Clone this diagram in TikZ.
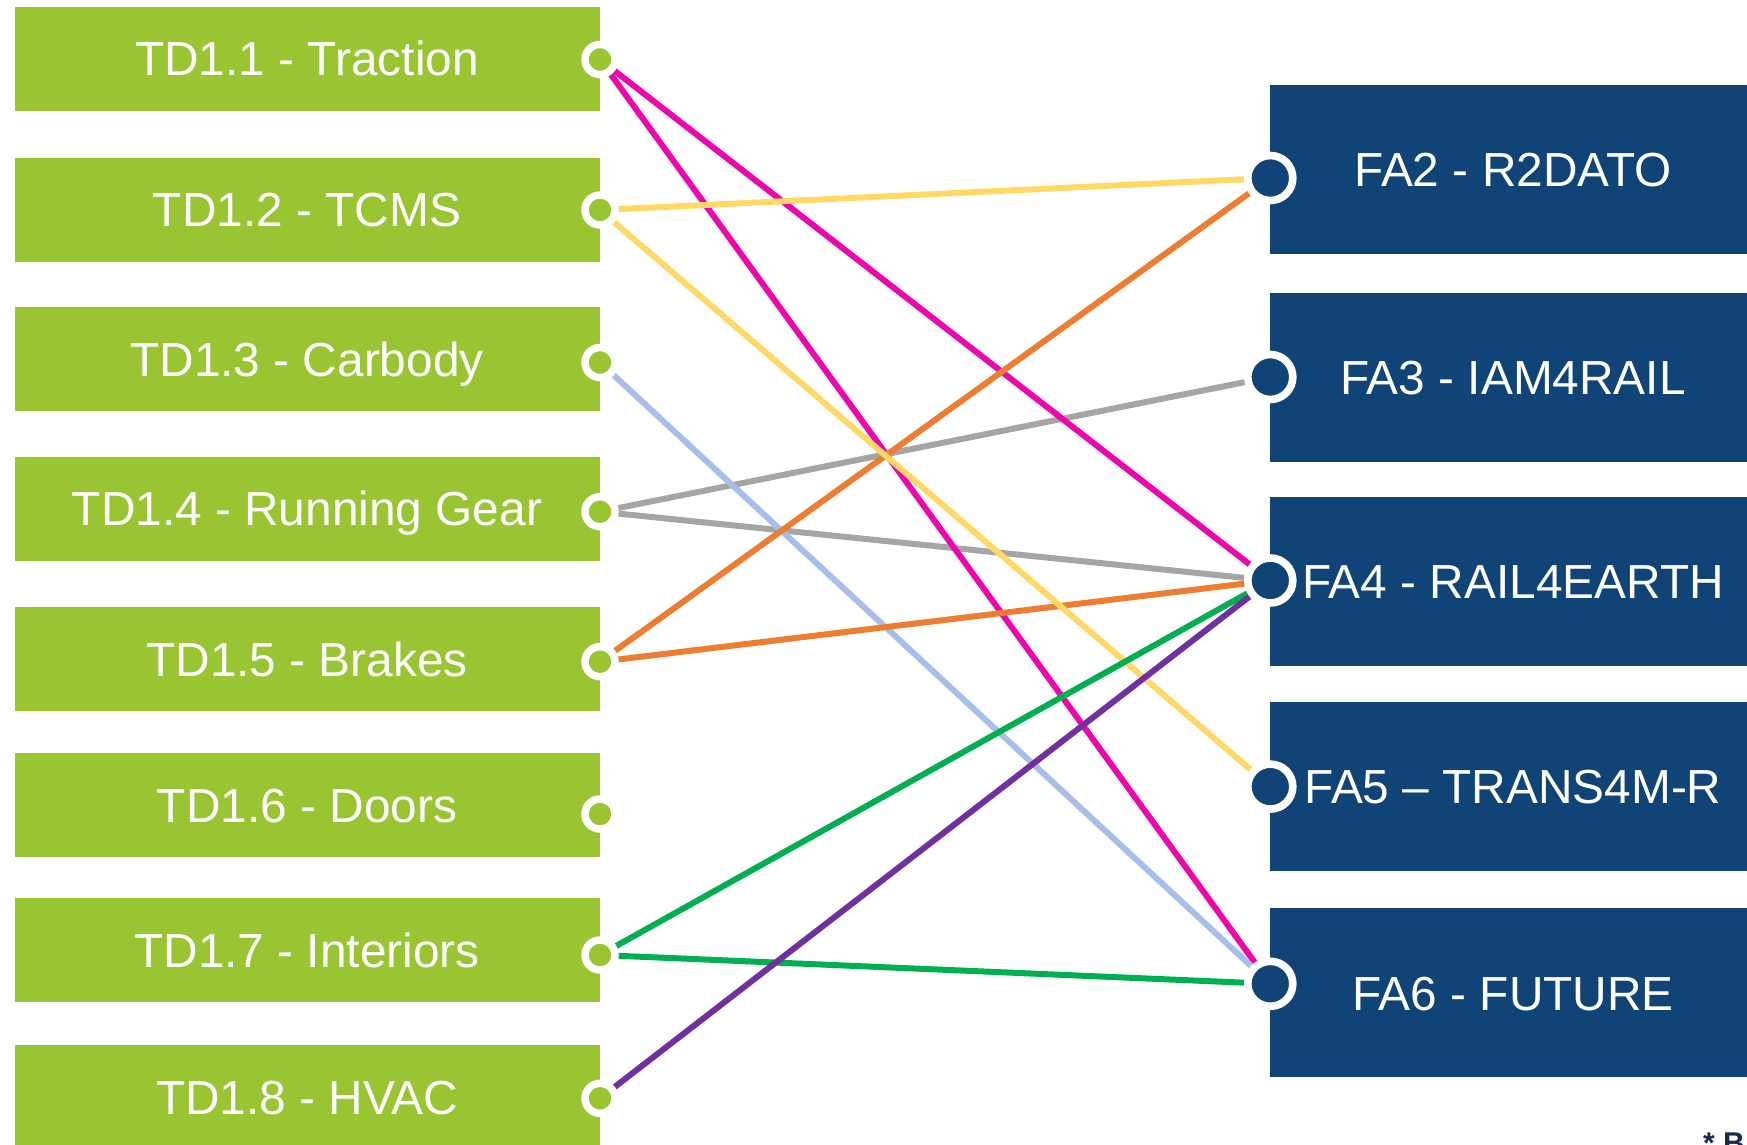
\documentclass[tikz,border=0pt]{standalone}
\usepackage{fontspec}
\setmainfont{Liberation Sans}
\definecolor{tdgreen}{HTML}{9AC532}
\definecolor{fablue}{HTML}{114476}
\definecolor{lmagenta}{HTML}{EC06AC}
\definecolor{lyellow}{HTML}{FFD966}
\definecolor{lorange}{HTML}{ED7D31}
\definecolor{lgrey}{HTML}{A5A5A5}
\definecolor{lblue}{HTML}{A6BFEA}
\definecolor{lgreen}{HTML}{00B050}
\definecolor{lpurple}{HTML}{7030A0}
\definecolor{notecol}{HTML}{1A2B4F}
\begin{document}
\begin{tikzpicture}[x=1pt,y=-1pt,
  tdbox/.style={rectangle, fill=tdgreen, minimum width=585pt, minimum height=104pt, inner sep=0pt,
    text=white, font=\fontsize{47.8}{56}\selectfont, text height=34.2pt, text depth=0pt},
  fabox/.style={rectangle, fill=fablue, minimum width=486pt, minimum height=169pt, inner sep=0pt,
    text=white, font=\fontsize{47.8}{56}\selectfont, text height=34.2pt, text depth=0pt},
  tdport/.style={circle, minimum size=30pt, inner sep=0pt, fill=tdgreen, draw=white, line width=7.5pt},
  faport/.style={circle, minimum size=45pt, inner sep=0pt, fill=fablue, draw=white, line width=7.6pt},
  link/.style={line width=6pt}]
\useasboundingbox (0,0) rectangle (1747,1145);
\clip (0,0) rectangle (1747,1145);
\fill[white] (0,0) rectangle (1747,1145);

% left boxes
\node[tdbox] (td1) at (307,58.7)  {TD1.1 - Traction};
\node[tdbox] (td2) at (307,209.5) {TD1.2 - TCMS};
\node[tdbox] (td3) at (307,359.3) {TD1.3 - Carbody};
\node[tdbox] (td4) at (307,508.5) {TD1.4 - Running Gear};
\node[tdbox] (td5) at (307,658.9) {TD1.5 - Brakes};
\node[tdbox] (td6) at (307,805)   {TD1.6 - Doors};
\node[tdbox] (td7) at (307,950.3) {TD1.7 - Interiors};
\node[tdbox] (td8) at (307,1097)  {TD1.8 - HVAC};

% right boxes
\node[fabox] (fa2) at (1513,169.2) {FA2 - R2DATO};
\node[fabox] (fa3) at (1513,377)   {FA3 - IAM4RAIL};
\node[fabox] (fa4) at (1513,581.7) {FA4 - RAIL4EARTH};
\node[fabox] (fa5) at (1513,786.6) {FA5 – TRANS4M-R};
\node[fabox] (fa6) at (1513,992.9) {FA6 - FUTURE};

% port centres
\coordinate (p1) at (600,59.5);
\coordinate (p2) at (600,210);
\coordinate (p3) at (600,362.5);
\coordinate (p4) at (600,511.7);
\coordinate (p5) at (600,661.7);
\coordinate (p6) at (600,814);
\coordinate (p7) at (600,955);
\coordinate (p8) at (600,1098.3);
\coordinate (q2) at (1270.3,178);
\coordinate (q3) at (1270.3,377);
\coordinate (q4) at (1270.3,580.5);
\coordinate (q5) at (1270.3,786.6);
\coordinate (q6) at (1270.3,983.8);

% connectors
\draw[link, lgrey] (p4) -- (q3);
\draw[link, lgrey] (p4) -- (q4);
\draw[link, lmagenta] (p1) -- (q4);
\draw[link, lmagenta] (p1) -- (q6);
\draw[link, lblue] (p3) -- (q6);
\draw[link, lorange] (p5) -- (q2);
\draw[link, lorange] (p5) -- (q4);
\draw[link, lyellow] (p2) -- (q2);
\draw[link, lyellow] (p2) -- (q5);
\draw[link, lgreen] (p7) -- (q4);
\draw[link, lgreen] (p7) -- (q6);
\draw[link, lpurple] (p8) -- (q4);

% ports
\node[tdport] (port1) at (p1) {};
\node[tdport] (port2) at (p2) {};
\node[tdport] (port3) at (p3) {};
\node[tdport] (port4) at (p4) {};
\node[tdport] (port5) at (p5) {};
\node[tdport] (port6) at (p6) {};
\node[tdport] (port7) at (p7) {};
\node[tdport] (port8) at (p8) {};
\node[faport] (fport2) at (q2) {};
\node[faport] (fport3) at (q3) {};
\node[faport] (fport4) at (q4) {};
\node[faport] (fport5) at (q5) {};
\node[faport] (fport6) at (q6) {};

% cut-off footnote (cut by the picture's edge, as in the reference)
\node[anchor=base west, inner sep=0pt, text=notecol, font=\bfseries\fontsize{30}{36}\selectfont] (note) at (1703,1153) {* B};
\end{tikzpicture}
\end{document}
